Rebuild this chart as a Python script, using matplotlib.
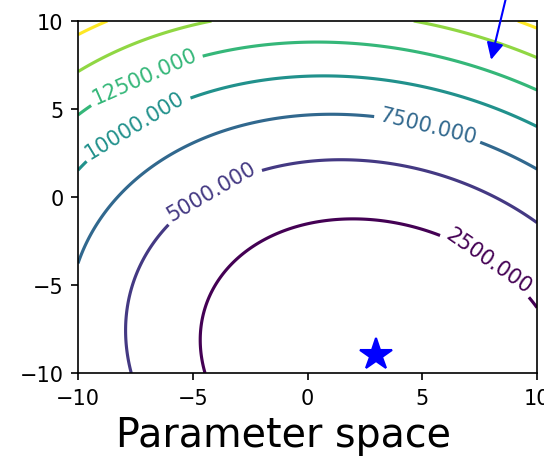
import numpy as np
import matplotlib
matplotlib.use("Agg")
import matplotlib.pyplot as plt

# loss surface coefficients: f = A x^2 + B y^2 + C xy + D x + E y + F
A, B, C, D, E, F = 41.26, 38.64, 12.91, -147.44, 687.91, 3457.4
levels = [2500, 5000, 7500, 10000, 12500, 15000, 17500]
labeled = [2500, 5000, 7500, 10000, 12500]
label_pos = [(8.0, -3.4), (-4.3, 0.6), (5.3, 4.3), (-7.4, 3.9), (-7.0, 6.6)]
star = (3, -9)
arrow_from = (8.96, 13.0)
arrow_to = (8.0, 7.8)

xs = np.linspace(-10, 10, 201)
ys = np.linspace(-10, 10, 201)
X, Y = np.meshgrid(xs, ys)
Z = A * X**2 + B * Y**2 + C * X * Y + D * X + E * Y + F

fig = plt.figure(figsize=(544 / 150, 466 / 150), dpi=150)
ax = fig.add_axes([78 / 544, 1 - 374 / 466, 459 / 544, 352 / 466])

cs = ax.contour(X, Y, Z, levels=levels, cmap="viridis")
cs.clabel(levels=labeled, fmt="%.3f", fontsize=10, inline=True, manual=label_pos)

ax.plot(star[0], star[1], marker="*", color="blue", markersize=16, linestyle="none")
ax.annotate("", xy=arrow_to, xytext=arrow_from, annotation_clip=False,
            arrowprops=dict(arrowstyle="-|>", color="blue", lw=1.0,
                            mutation_scale=17, shrinkA=0, shrinkB=0))

ax.set_xlim(-10, 10)
ax.set_ylim(-10, 10)
ax.set_xticks([-10, -5, 0, 5, 10])
ax.set_yticks([-10, -5, 0, 5, 10])

# big caption under the plot
fig.text(284 / 544, 19 / 466, "Parameter space", fontsize=19, ha="center", va="baseline")

fig.savefig("out.png", dpi=150)
